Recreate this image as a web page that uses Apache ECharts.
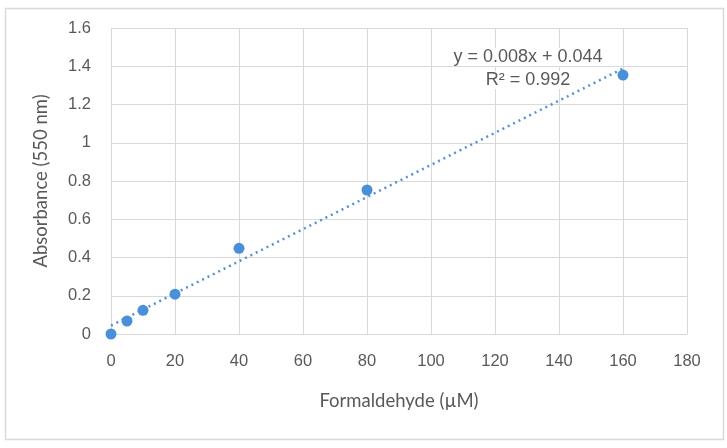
<!DOCTYPE html>
<html>
<head>
<meta charset="utf-8">
<script src="https://cdn.jsdelivr.net/npm/echarts@6/dist/echarts.min.js"></script>
<style>
html,body{margin:0;padding:0;background:#fff;}
#c{width:727px;height:448px;}
</style>
</head>
<body>
<div id="c"></div>
<script>
const concentration = [0, 5, 10, 20, 40, 80, 160];
const absorbance = [0, 0.068, 0.124, 0.208, 0.448, 0.753, 1.354];
const trendRange = [0, 160];
const equationLines = ['y = 0.008x + 0.044', 'R\u00b2 = 0.992'];

// least-squares fit of the data (Excel linear trendline)
const n = concentration.length;
const mx = concentration.reduce((a, b) => a + b, 0) / n;
const my = absorbance.reduce((a, b) => a + b, 0) / n;
let sxy = 0, sxx = 0;
for (let i = 0; i < n; i++) {
  sxy += (concentration[i] - mx) * (absorbance[i] - my);
  sxx += (concentration[i] - mx) * (concentration[i] - mx);
}
const slope = sxy / sxx;
const intercept = my - slope * mx;
const trendData = trendRange.map(x => [x, slope * x + intercept]);

const chart = echarts.init(document.getElementById('c'));
chart.setOption({
  animation: false,
  backgroundColor: '#fff',
  grid: { left: 111, top: 28, width: 576, height: 306, containLabel: false },
  xAxis: {
    type: 'value', min: 0, max: 180, interval: 20,
    name: 'Formaldehyde (\u00b5M)', nameLocation: 'middle', nameGap: 58,
    nameTextStyle: { fontFamily: 'Lato', fontSize: 18.5, color: '#595959' },
    axisLine: { show: true, lineStyle: { color: '#d9d9d9' } },
    axisTick: { show: false },
    axisLabel: { margin: 19, fontFamily: 'Liberation Sans', fontSize: 16.5, color: '#595959' },
    splitLine: { show: true, lineStyle: { color: '#d9d9d9' } }
  },
  yAxis: {
    type: 'value', min: 0, max: 1.6, interval: 0.2,
    name: 'Absorbance (550 nm)', nameLocation: 'middle', nameGap: 60,
    nameTextStyle: { fontFamily: 'Lato', fontSize: 18.5, color: '#595959' },
    axisLine: { show: true, lineStyle: { color: '#d9d9d9' } },
    axisTick: { show: false },
    axisLabel: { margin: 20, fontFamily: 'Liberation Sans', fontSize: 16.5, color: '#595959',
      formatter: v => String(parseFloat(v.toFixed(1))) },
    splitLine: { show: true, lineStyle: { color: '#d9d9d9' } }
  },
  graphic: [
    { type: 'rect', left: 3, top: 6, shape: { width: 718, height: 431 },
      style: { fill: 'none', stroke: '#d9d9d9', lineWidth: 1.5 }, silent: true },
    { type: 'text', x: 528, y: 57, z: 10, style: { text: equationLines[0], align: 'center', verticalAlign: 'middle',
      font: '18px "Liberation Sans"', fill: '#595959', backgroundColor: '#fff', padding: [0, 2] } },
    { type: 'text', x: 528, y: 80, z: 10, style: { text: equationLines[1], align: 'center', verticalAlign: 'middle',
      font: '18px "Liberation Sans"', fill: '#595959', backgroundColor: '#fff', padding: [0, 2] } }
  ],
  series: [
    {
      type: 'line', data: trendData, showSymbol: false, symbol: 'none',
      lineStyle: { color: '#5B8FCF', width: 2.5, type: [2, 4] }, z: 2
    },
    {
      type: 'scatter', data: concentration.map((x, i) => [x, absorbance[i]]),
      symbolSize: 11, itemStyle: { color: '#4A90D9', opacity: 1 }, z: 3
    }
  ]
});
</script>
</body>
</html>
